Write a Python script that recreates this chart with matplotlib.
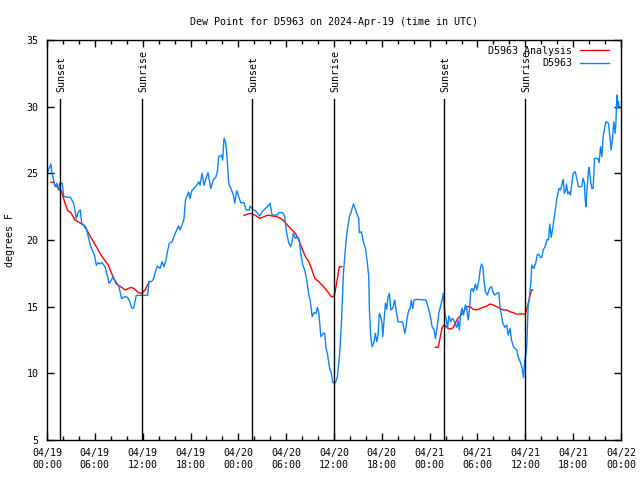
import numpy as np
import matplotlib
matplotlib.use("Agg")
import matplotlib.pyplot as plt

plt.rcParams['font.family'] = ['DejaVu Sans Mono']

# hours since 04/19 00:00 UTC
obs_hours = [0.08, 0.5, 0.6, 0.75, 1.0, 1.25, 1.42, 1.6, 1.92, 2.1, 2.93, 3.35, 3.68, 3.93, 4.18, 4.35,
             4.68, 4.93, 5.18, 5.43, 5.77, 5.94, 6.19, 6.44, 6.69, 6.9, 7.28, 7.6, 7.78, 8.03, 8.28, 8.62,
             8.95, 9.12, 9.37, 9.7, 10.1, 10.37, 10.62, 10.87, 11.04, 11.2, 11.88, 12.63, 12.8, 13.1,
             13.34, 13.59, 13.84, 14.18, 14.43, 14.68, 14.93, 15.1, 15.34, 15.68, 16.0, 16.27, 16.52,
             16.69, 16.94, 17.19, 17.36, 17.78, 17.94, 18.19, 18.44, 18.78, 19.04, 19.2, 19.45, 19.7,
             19.95, 20.2, 20.54, 20.87, 21.2, 21.37, 21.54, 21.87, 22.04, 22.2, 22.38, 22.55, 22.71,
             22.8, 23.05, 23.38, 23.55, 23.8, 24.05, 24.3, 24.72, 24.97, 25.38, 25.47, 25.8, 26.14,
             26.47, 26.72, 26.98, 27.4, 27.82, 27.98, 28.23, 28.9, 29.07, 29.57, 29.82, 29.9, 30.07,
             30.33, 30.58, 30.74, 30.9, 31.15, 31.4, 31.66, 31.83, 32.08, 32.33, 32.58, 32.84, 33.0,
             33.17, 33.25, 33.5, 33.75, 33.91, 34.1, 34.25, 34.34, 34.67, 34.84, 35.0, 35.17, 35.35,
             35.5, 35.67, 35.85, 36.18, 36.43, 36.68, 36.93, 37.18, 37.35, 37.52, 37.68, 37.93, 38.1,
             38.43, 38.69, 38.86, 39.1, 39.18, 39.43, 39.69, 39.94, 40.19, 40.36, 40.44, 40.61, 40.78,
             41.03, 41.19, 41.37, 41.53, 41.69, 41.87, 42.03, 42.12, 42.28, 42.45, 42.62, 42.78, 42.95,
             43.12, 43.37, 43.62, 43.78, 44.03, 44.45, 44.63, 44.88, 45.04, 45.2, 45.38, 45.55, 45.7,
             45.88, 46.05, 46.3, 47.55, 47.72, 47.9, 48.14, 48.3, 48.56, 48.72, 48.9, 49.14, 49.3,
             49.56, 49.72, 49.9, 50.06, 50.24, 50.4, 50.65, 50.82, 50.98, 51.16, 51.4, 51.57, 51.73,
             51.9, 52.07, 52.23, 52.48, 52.66, 52.82, 52.99, 53.16, 53.32, 53.49, 53.74, 53.91, 54.17,
             54.33, 54.5, 54.67, 54.83, 55.0, 55.25, 55.5, 55.76, 55.92, 56.17, 56.42, 56.68, 56.84,
             57.0, 57.18, 57.43, 57.68, 57.84, 58.09, 58.26, 58.51, 58.68, 58.93, 59.1, 59.26, 59.43,
             59.6, 59.76, 59.94, 60.1, 60.19, 60.35, 60.52, 60.69, 60.81, 61.07, 61.32, 61.48, 61.65,
             61.9, 62.07, 62.23, 62.48, 62.74, 62.9, 62.99, 63.07, 63.24, 63.4, 63.58, 63.74, 63.9,
             64.08, 64.24, 64.41, 64.58, 64.74, 64.9, 65.08, 65.16, 65.33, 65.5, 65.66, 65.83, 66.0,
             66.25, 66.5, 66.66, 67.08, 67.25, 67.42, 67.5, 67.59, 67.76, 67.92, 68.0, 68.17, 68.34,
             68.5, 68.6, 68.67, 69.1, 69.26, 69.43, 69.6, 69.76, 69.93, 70.1, 70.43, 70.6, 70.77,
             70.93, 71.1, 71.27, 71.36, 71.43, 71.52, 71.6, 71.68, 71.77]
obs_dew = [25.1, 25.7, 25.1, 24.75, 24.0, 24.25, 23.75, 24.25, 24.25, 23.25, 23.2, 22.75, 21.6, 22.1,
           22.25, 21.25, 21.1, 20.9, 20.25, 19.6, 19.1, 18.9, 18.1, 18.3, 18.2, 18.3, 18.0, 17.25,
           16.75, 16.95, 17.25, 16.75, 16.6, 16.25, 15.6, 15.75, 15.7, 15.4, 14.9, 14.9, 15.4, 15.85,
           15.85, 15.85, 16.9, 16.87, 17.05, 17.6, 18.05, 17.87, 18.37, 18.0, 18.5, 19.1, 19.75,
           19.87, 20.37, 20.75, 21.05, 20.75, 21.12, 21.6, 23.0, 23.6, 23.1, 23.75, 23.87, 24.1,
           24.37, 24.1, 25.0, 24.1, 24.62, 25.05, 23.87, 24.5, 24.75, 25.12, 26.25, 26.37, 26.0,
           27.62, 27.37, 26.5, 25.0, 24.25, 23.87, 23.37, 22.75, 23.7, 23.25, 22.8, 22.8, 22.25,
           22.25, 22.55, 22.3, 22.2, 21.95, 21.8, 22.12, 22.37, 22.62, 22.75, 21.87, 21.87, 22.05,
           22.05, 21.75, 21.25, 20.5, 19.75, 19.5, 19.87, 20.5, 20.12, 20.25, 20.0, 19.0, 18.12,
           17.75, 17.0, 15.87, 15.5, 14.75, 14.25, 14.55, 14.5, 14.95, 14.5, 13.5, 12.75, 13.0, 13.0,
           11.87, 11.5, 10.75, 10.25, 10.0, 9.3, 9.3, 9.75, 11.25, 13.75, 17.5, 18.75, 20.0, 20.75,
           21.75, 22.0, 22.7, 22.3, 22.0, 21.62, 20.55, 20.62, 19.87, 19.37, 18.25, 17.25, 14.75,
           12.75, 12.0, 12.37, 13.0, 12.37, 12.87, 14.5, 14.25, 13.75, 12.75, 14.0, 15.25, 14.8,
           15.75, 16.0, 14.75, 14.87, 15.5, 14.75, 13.87, 13.87, 13.8, 13.0, 13.5, 14.25, 14.75,
           14.87, 15.5, 14.87, 15.5, 15.55, 15.5, 15.12, 14.75, 14.12, 13.5, 13.25, 12.6, 13.3, 14.5,
           14.87, 15.5, 16.0, 14.5, 14.12, 13.37, 14.3, 13.87, 14.12, 14.05, 13.75, 13.45, 13.95,
           13.25, 14.5, 14.87, 14.37, 15.12, 14.87, 14.0, 14.75, 16.25, 16.37, 16.12, 16.7, 16.25,
           16.95, 17.75, 18.2, 18.0, 16.87, 16.12, 15.87, 16.37, 16.5, 16.12, 15.87, 16.0, 16.05,
           14.87, 14.37, 13.75, 13.45, 13.62, 12.87, 13.37, 12.5, 12.0, 11.87, 11.75, 11.25, 11.0,
           10.75, 10.37, 9.7, 11.0, 11.5, 12.25, 15.0, 15.75, 16.75, 18.12, 17.87, 18.3, 18.87,
           18.95, 18.7, 18.7, 19.25, 19.5, 20.05, 20.0, 20.62, 21.2, 20.2, 20.75, 21.5, 22.12, 22.87,
           23.5, 23.87, 23.75, 24.12, 24.55, 23.5, 23.75, 24.2, 23.45, 23.62, 23.37, 24.25, 25.0,
           25.12, 24.5, 24.0, 24.0, 24.62, 24.25, 23.12, 22.5, 24.05, 25.2, 25.45, 24.5, 23.87,
           23.87, 25.0, 26.12, 26.12, 25.8, 27.0, 26.25, 27.75, 28.37, 28.87, 28.75, 27.75, 26.75,
           27.62, 28.87, 28.0, 28.75, 30.12, 30.87, 29.87, 30.37, 30.0]

# analysis: three separate runs (nan = gap)
ana_hours = [0.5, 0.84, 1.0, 1.42, 1.84, 2.26, 2.6, 3.0, 3.5, 4.1, 4.6, 5.0, 5.6, 6.19, 6.69, 7.1, 7.7,
             8.1, 8.53, 8.95, 9.37, 9.79, 10.2, 10.62, 11.04, 11.46, 11.88, 12.3, 12.8,
             18.0,
             24.72, 25.47, 26.06, 26.72, 27.23, 27.73, 28.23, 28.82, 29.32, 29.82, 30.33, 30.74,
             31.15, 31.58, 31.99, 32.41, 32.84, 33.17, 33.59, 34.1, 34.6, 35.0, 35.35, 35.67, 36.0,
             36.18, 36.43, 36.68, 37.0,
             42.0,
             48.72, 49.06, 49.3, 49.56, 49.81, 50.15, 50.56, 50.98, 51.4, 51.82, 52.23, 52.66, 53.07,
             53.49, 53.91, 54.33, 54.74, 55.17, 55.58, 56.0, 56.42, 56.84, 57.25, 57.68, 58.09, 58.5,
             58.85, 59.35, 60.0, 60.26, 60.52, 60.77, 60.94]
ana_dew = [24.33, 24.33, 24.1, 23.9, 23.6, 22.75, 22.2, 22.05, 21.5, 21.3, 21.1, 20.75, 20.1, 19.5,
           18.95, 18.6, 18.1, 17.5, 16.95, 16.6, 16.45, 16.25, 16.37, 16.45, 16.3, 16.05, 16.0,
           16.25, 16.85,
           np.nan,
           21.85, 22.0, 21.87, 21.62, 21.75, 21.87, 21.8, 21.75, 21.62, 21.37, 21.0, 20.75, 20.5,
           20.0, 19.37, 18.75, 18.37, 17.87, 17.12, 16.87, 16.55, 16.3, 16.0, 15.75, 15.75, 16.25,
           17.12, 18.0, 18.0,
           np.nan,
           11.95, 11.95, 12.62, 13.45, 13.62, 13.45, 13.3, 13.45, 14.0, 14.3, 14.62, 15.0, 15.0,
           14.8, 14.75, 14.87, 14.95, 15.05, 15.2, 15.12, 15.0, 14.87, 14.75, 14.75, 14.62, 14.55,
           14.45, 14.45, 14.45, 15.0, 15.62, 16.25, 16.25]

sun_hours = [1.67, 11.96, 25.76, 36.0, 49.85, 60.0]
sun_labels = ['Sunset', 'Sunrise', 'Sunset', 'Sunrise', 'Sunset', 'Sunrise']

tick_hours = list(range(0, 73, 6))
tick_labels = ['04/19\n00:00', '04/19\n06:00', '04/19\n12:00', '04/19\n18:00',
               '04/20\n00:00', '04/20\n06:00', '04/20\n12:00', '04/20\n18:00',
               '04/21\n00:00', '04/21\n06:00', '04/21\n12:00', '04/21\n18:00',
               '04/22\n00:00']

fig = plt.figure(figsize=(6.4, 4.8), dpi=100)
ax = fig.add_axes([47 / 640, 40 / 480, 574 / 640, 400 / 480])

ax.plot(ana_hours, ana_dew, color='#ff0000', lw=1.0, label='D5963 Analysis')
ax.plot(obs_hours, obs_dew, color='#0a84ff', lw=1.0, label='D5963')

for h, lab in zip(sun_hours, sun_labels):
    ax.axvline(h, ymin=0, ymax=0.853, color='black', lw=1.0)
    ax.text(h + 0.15, 31.1, lab, rotation=90, ha='center', va='bottom', fontsize=7.2)

ax.set_xlim(0, 72)
ax.set_ylim(5, 35)
ax.set_xticks(tick_hours)
ax.set_xticklabels(tick_labels)
ax.set_xticks(range(0, 73, 2), minor=True)
ax.set_yticks(range(5, 36, 5))
ax.tick_params(which='both', direction='in', top=True, right=True, labelsize=7.2, width=1.0)
ax.tick_params(which='major', length=5, pad=6)
ax.tick_params(which='minor', length=3)
for s in ax.spines.values():
    s.set_linewidth(1.0)

ax.set_title('Dew Point for D5963 on 2024-Apr-19 (time in UTC)', fontsize=7.2, pad=11)
fig.text(10 / 640, 0.5, 'degrees F', rotation=90, ha='center', va='center', fontsize=7.2)

ax.legend(loc='upper right', frameon=False, markerfirst=False, fontsize=7.2,
          handlelength=2.9, handletextpad=0.8, labelspacing=0.25,
          borderaxespad=0.2, bbox_to_anchor=(0.99, 1.0))

fig.savefig('out.png', dpi=100)
